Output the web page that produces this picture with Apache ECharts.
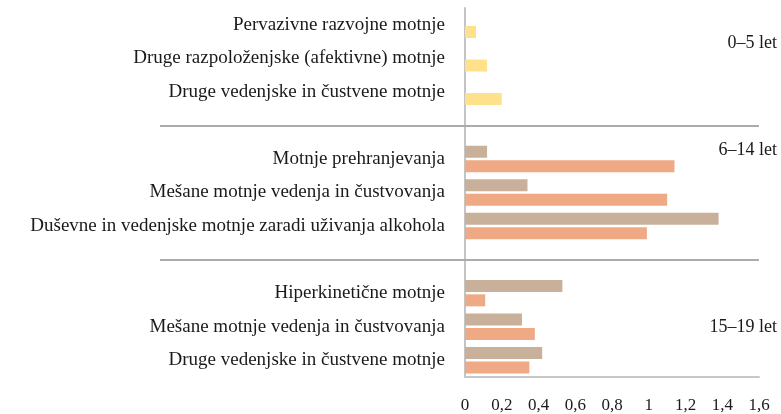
<!DOCTYPE html>
<html>
<head>
<meta charset="utf-8">
<script src="https://cdn.jsdelivr.net/npm/echarts@6/dist/echarts.min.js"></script>
<style>
  html, body { margin: 0; padding: 0; background: #fff; }
  #chart { width: 781px; height: 414px; }
</style>
</head>
<body>
<div id="chart"></div>
<script>
// categories top to bottom, '' = empty row between the age groups
var categories = [
    'Pervazivne razvojne motnje',
    'Druge razpoloženjske (afektivne) motnje',
    'Druge vedenjske in čustvene motnje',
    '',
    'Motnje prehranjevanja',
    'Mešane motnje vedenja in čustvovanja',
    'Duševne in vedenjske motnje zaradi uživanja alkohola',
    '',
    'Hiperkinetične motnje',
    'Mešane motnje vedenja in čustvovanja',
    'Druge vedenjske in čustvene motnje'
]
var tanValues = [null, null, null, null, 0.12, 0.34, 1.38, null, 0.53, 0.31, 0.42]
var salmonValues = [null, null, null, null, 1.14, 1.10, 0.99, null, 0.11, 0.38, 0.35]
var yellowValues = [0.06, 0.12, 0.20, null, null, null, null, null, null, null, null]
var xTickLabels = ['0', '0,2', '0,4', '0,6', '0,8', '1', '1,2', '1,4', '1,6']
var groupLabels = ['0–5 let', '6–14 let', '15–19 let']

var font = '"Liberation Serif", "DejaVu Serif", serif'
var sepColor = '#ababab'

var chartDom = document.getElementById('chart')
var myChart = echarts.init(chartDom)

var isSeparator = function (index, value) {
    return value === ''
}

var option = {
    animation: false,
    grid: {
        left: 465,
        right: 22,
        top: 8,
        bottom: 37
    },
    xAxis: {
        type: 'value',
        min: 0,
        max: 1.6,
        interval: 0.2,
        axisLine: { show: true, lineStyle: { color: '#c8c8c8', width: 2 } },
        axisTick: { show: false },
        splitLine: { show: false },
        axisLabel: {
            margin: 20,
            color: '#1a1a1a',
            fontFamily: font,
            fontSize: 17,
            formatter: function (value, index) {
                return xTickLabels[index]
            }
        }
    },
    yAxis: [
        {
            type: 'category',
            inverse: true,
            data: categories,
            axisLine: { show: true, lineStyle: { color: '#c4c4c4', width: 2 } },
            axisTick: {
                show: true,
                alignWithLabel: true,
                interval: isSeparator,
                length: 305,
                lineStyle: { color: sepColor, width: 2 }
            },
            axisLabel: {
                margin: 20,
                color: '#1a1a1a',
                fontFamily: font,
                fontSize: 19
            }
        },
        {
            type: 'category',
            inverse: true,
            position: 'right',
            data: categories,
            axisLine: { show: false },
            axisTick: {
                show: true,
                inside: true,
                alignWithLabel: true,
                interval: isSeparator,
                length: 294,
                lineStyle: { color: sepColor, width: 2 }
            },
            axisLabel: { show: false }
        }
    ],
    graphic: [
        { type: 'text', right: 4, top: 34, style: { text: groupLabels[0], fill: '#1a1a1a', font: '18px ' + font } },
        { type: 'text', right: 4, top: 141, style: { text: groupLabels[1], fill: '#1a1a1a', font: '18px ' + font } },
        { type: 'text', right: 4, top: 318, style: { text: groupLabels[2], fill: '#1a1a1a', font: '18px ' + font } }
    ],
    series: [
        {
            name: 'Tan',
            type: 'bar',
            barWidth: 12,
            barGap: '20%',
            itemStyle: { color: '#c9b09b' },
            data: tanValues
        },
        {
            name: 'Salmon',
            type: 'bar',
            stack: 'b',
            barWidth: 12,
            barGap: '20%',
            itemStyle: { color: '#f0a985' },
            data: salmonValues
        },
        {
            name: 'Yellow',
            type: 'bar',
            stack: 'b',
            barWidth: 12,
            barGap: '20%',
            itemStyle: { color: '#ffe18b' },
            data: yellowValues
        }
    ]
}
myChart.setOption(option)
</script>
</body>
</html>
